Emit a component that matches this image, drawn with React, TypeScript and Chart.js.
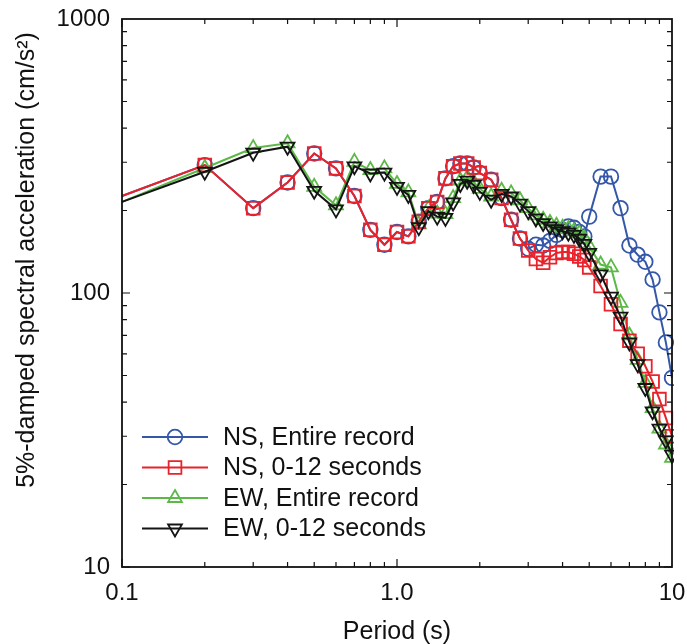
import React, { useEffect, useRef } from 'react';
import { Chart, registerables } from 'chart.js';

Chart.register(...registerables);

// ---------------- data ----------------
const periods = [
  0.1, 0.2, 0.3, 0.4, 0.5, 0.6, 0.7, 0.8, 0.9, 1.0,
  1.1, 1.2, 1.3, 1.4, 1.5, 1.6, 1.7, 1.8, 1.9, 2.0,
  2.2, 2.4, 2.6, 2.8, 3.0, 3.2, 3.4, 3.6, 3.8, 4.0,
  4.2, 4.4, 4.6, 4.8, 5.0, 5.5, 6.0, 6.5, 7.0, 7.5,
  8.0, 8.5, 9.0, 9.5, 10,
];

const nsEntire = [
  226, 293, 204, 253, 323, 285, 226, 170, 150, 167,
  161, 182, 204, 215, 262, 290, 297, 297, 287, 274,
  259, 222, 185, 158, 145, 150, 149, 155, 163, 170,
  175, 173, 167, 161, 190, 266, 266, 204, 149, 138,
  130, 112, 85, 66, 49,
];

const ns0to12 = [
  226, 293, 204, 253, 323, 285, 226, 170, 150, 167,
  161, 182, 204, 215, 262, 290, 297, 297, 287, 274,
  259, 222, 185, 158, 143, 133, 129, 135, 140, 141,
  141, 139, 136, 132, 124, 106, 91, 77, 67, 60,
  54, 47.5, 41, 35, 30,
];

const ewEntire = [
  215, 286, 338, 352, 244, 209, 301, 281, 285, 250,
  233, 178, 203, 195, 194, 222, 257, 263, 254, 240,
  225, 236, 231, 218, 204, 192, 185, 180, 176, 173,
  171, 168, 165, 158, 148, 127, 124, 92, 70, 57,
  47, 38, 32, 28, 25,
];

const ew0to12 = [
  215, 277, 325, 342, 236, 202, 290, 273, 275, 244,
  228, 174, 199, 190, 188, 214, 250, 257, 248, 234,
  219, 230, 225, 212, 199, 187, 180, 175, 171, 168,
  166, 163, 158, 151, 140, 117, 97, 82, 66, 55,
  45, 37, 32, 29, 25.7,
];

const seriesNames = ['NS, Entire record', 'NS, 0-12 seconds', 'EW, Entire record', 'EW, 0-12 seconds'];
const xTickValues = [0.1, 1, 10];
const xTickLabels = ['0.1', '1.0', '10'];
const yTickValues = [10, 100, 1000];
const yTickLabels = ['10', '100', '1000'];
const xTitle = 'Period (s)';
const yTitle = '5%-damped spectral acceleration (cm/s²)';

// ---------------- styles ----------------
const FONT = '"Liberation Sans", Arial, Helvetica, sans-serif';
const COLORS = ['#3457a8', '#e8232b', '#5cb947', '#141414'];
const STYLES = ['circle', 'rect', 'triangle', 'triangle'];
const ROTATIONS = [0, 0, 0, 180];
const RADII = [7.3, 9, 8, 8];
const ORDERS = [4, 2, 3, 1];

function drawMarker(ctx: CanvasRenderingContext2D, kind: number, x: number, y: number) {
  const r = RADII[kind];
  ctx.beginPath();
  if (kind === 0) {
    ctx.arc(x, y, r, 0, Math.PI * 2);
  } else if (kind === 1) {
    const s = r * Math.SQRT1_2;
    ctx.rect(x - s, y - s, 2 * s, 2 * s);
  } else if (kind === 2) {
    ctx.moveTo(x, y - r);
    ctx.lineTo(x + 0.866 * r, y + 0.5 * r);
    ctx.lineTo(x - 0.866 * r, y + 0.5 * r);
    ctx.closePath();
  } else {
    ctx.moveTo(x, y + r);
    ctx.lineTo(x - 0.866 * r, y - 0.5 * r);
    ctx.lineTo(x + 0.866 * r, y - 0.5 * r);
    ctx.closePath();
  }
  ctx.stroke();
}

const extrasPlugin = {
  id: 'extras',
  afterDraw(chart: any) {
    const { ctx, chartArea } = chart;
    const xs = chart.scales.x;
    const ys = chart.scales.y;
    const { left, right, top, bottom } = chartArea;
    ctx.save();
    ctx.strokeStyle = '#111';
    ctx.lineWidth = 1.8;
    ctx.strokeRect(left, top, right - left, bottom - top);

    // inward ticks
    ctx.lineWidth = 1.2;
    ctx.beginPath();
    [0.1, 1].forEach((d) => {
      for (let m = 1; m <= 9; m++) {
        const v = d * m;
        const len = m === 1 ? 8 : 5;
        const px = xs.getPixelForValue(v);
        ctx.moveTo(px, bottom);
        ctx.lineTo(px, bottom - len);
        ctx.moveTo(px, top);
        ctx.lineTo(px, top + len);
      }
    });
    [10, 100].forEach((d) => {
      for (let m = 1; m <= 9; m++) {
        const v = d * m;
        const len = m === 1 ? 8 : 5;
        const py = ys.getPixelForValue(v);
        ctx.moveTo(left, py);
        ctx.lineTo(left + len, py);
        ctx.moveTo(right, py);
        ctx.lineTo(right - len, py);
      }
    });
    ctx.stroke();

    // axis titles
    ctx.fillStyle = '#111';
    ctx.font = `25px ${FONT}`;
    ctx.textAlign = 'center';
    ctx.textBaseline = 'alphabetic';
    ctx.fillText(xTitle, (left + right) / 2, 639);

    ctx.save();
    ctx.translate(34, 260);
    ctx.rotate(-Math.PI / 2);
    ctx.font = `25px ${FONT}`;
    ctx.fillText(yTitle, 0, 0);
    ctx.restore();

    // legend
    const rowsY = [437, 467.5, 498, 528.5];
    ctx.font = `25px ${FONT}`;
    ctx.textAlign = 'left';
    ctx.textBaseline = 'middle';
    seriesNames.forEach((name, i) => {
      const y = rowsY[i];
      ctx.strokeStyle = COLORS[i];
      ctx.lineWidth = 2;
      ctx.beginPath();
      ctx.moveTo(142, y);
      ctx.lineTo(208, y);
      ctx.stroke();
      ctx.lineWidth = 1.8;
      drawMarker(ctx, i, 175, y);
      ctx.fillStyle = '#111';
      ctx.fillText(name, 223, y + 1);
    });
    ctx.restore();
  },
};

function zeroPadding(s: any) {
  s.paddingLeft = 0;
  s.paddingRight = 0;
  s.paddingTop = 0;
  s.paddingBottom = 0;
}

export default function App() {
  const canvasRef = useRef<HTMLCanvasElement | null>(null);

  useEffect(() => {
    const canvas = canvasRef.current;
    if (!canvas) return;
    const valuesList = [nsEntire, ns0to12, ewEntire, ew0to12];
    const datasets = valuesList.map((vals, i) => ({
      label: seriesNames[i],
      data: periods.map((p, j) => ({ x: p, y: vals[j] })),
      borderColor: COLORS[i],
      backgroundColor: 'rgba(0,0,0,0)',
      borderWidth: 2,
      pointStyle: STYLES[i] as any,
      pointRotation: ROTATIONS[i],
      pointRadius: periods.map((p) => (p < 0.15 ? 0 : RADII[i])),
      pointBorderWidth: 1.8,
      pointBorderColor: COLORS[i],
      pointBackgroundColor: 'rgba(0,0,0,0)',
      tension: 0,
      order: ORDERS[i],
      clip: 2,
    }));

    const chart = new Chart(canvas, {
      type: 'line',
      data: { datasets },
      options: {
        responsive: false,
        animation: false,
        devicePixelRatio: 1,
        layout: { padding: { left: 0, right: 15, top: 19, bottom: 0 } },
        plugins: { legend: { display: false }, tooltip: { enabled: false } },
        scales: {
          x: {
            type: 'logarithmic',
            min: 0.1,
            max: 10,
            position: 'bottom',
            grid: { display: false, drawTicks: false },
            border: { display: false },
            ticks: {
              autoSkip: false,
              maxRotation: 0,
              color: '#111',
              padding: 12,
              font: { family: FONT, size: 24 },
              callback: (_v: any, idx: number) => xTickLabels[idx] ?? '',
            },
            afterBuildTicks: (s: any) => {
              s.ticks = xTickValues.map((v) => ({ value: v }));
            },
            afterFit: (s: any) => {
              s.height = 77;
              zeroPadding(s);
            },
          },
          y: {
            type: 'logarithmic',
            min: 10,
            max: 1000,
            position: 'left',
            grid: { display: false, drawTicks: false },
            border: { display: false },
            ticks: {
              autoSkip: false,
              color: '#111',
              padding: 12,
              font: { family: FONT, size: 24 },
              callback: (_v: any, idx: number) => yTickLabels[idx] ?? '',
            },
            afterBuildTicks: (s: any) => {
              s.ticks = yTickValues.map((v) => ({ value: v }));
            },
            afterFit: (s: any) => {
              s.width = 122;
              zeroPadding(s);
            },
          },
        },
      },
      plugins: [extrasPlugin],
    });
    return () => chart.destroy();
  }, []);

  return (
    <div style={{ position: 'absolute', left: 0, top: 0, width: 687, height: 644, background: '#fff' }}>
      <canvas ref={canvasRef} width={687} height={644} style={{ display: 'block' }} />
    </div>
  );
}
